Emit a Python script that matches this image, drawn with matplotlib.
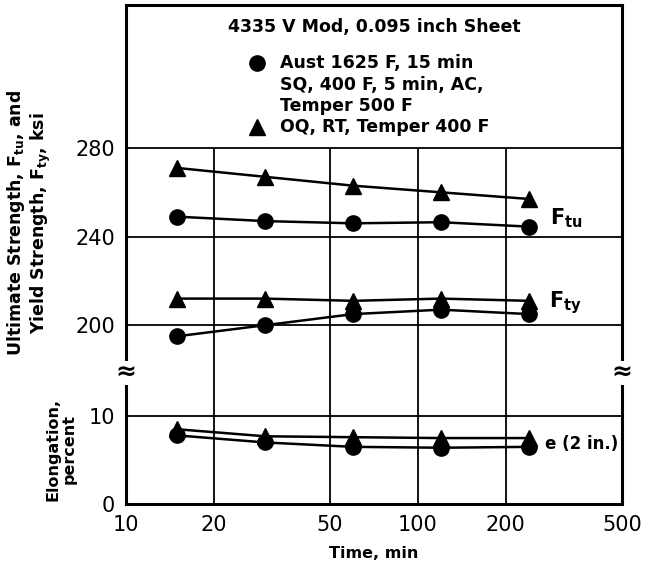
"""
4335 V Mod sheet: strength and elongation vs. tempering time.
"""
import numpy as np
import matplotlib
matplotlib.use('Agg')
import matplotlib.pyplot as plt

plt.rcParams.update({
    'font.family': 'DejaVu Sans',
    'mathtext.fontset': 'dejavusans',
    'axes.linewidth': 2.2,
})

# === Data ===
time_min = [15, 30, 60, 120, 240]
ftu_circle = [249, 247, 246, 246.5, 244.5]
ftu_triangle = [271, 267, 263, 260, 257]
fty_circle = [195, 200, 205, 207, 205]
fty_triangle = [212, 212, 211, 212, 211]
elong_circle = [7.8, 7.0, 6.5, 6.4, 6.5]
elong_triangle = [8.5, 7.7, 7.6, 7.5, 7.5]

x_ticks = [10, 20, 50, 100, 200, 500]
x_grid = [20, 50, 100, 200]
strength_ticks = [200, 240, 280]
elong_ticks = [0, 10]

W, H = 657, 567
fig = plt.figure(figsize=(W / 100, H / 100), dpi=100, facecolor='white')

# pixel frame of the plot
L, R, T, BRK, B = 126, 622, 5, 373, 504
ax_top = fig.add_axes([L / W, 1 - BRK / H, (R - L) / W, (BRK - T) / H])
ax_bot = fig.add_axes([L / W, 1 - B / H, (R - L) / W, (B - BRK) / H])

top_lim = (178.4, 344.6)
bot_lim = (0, 14.9)

GRID_LW = 1.3
for ax in (ax_top, ax_bot):
    ax.set_xscale('log')
    ax.set_xlim(10, 500)
    ax.minorticks_off()
    ax.tick_params(length=0, labelsize=15, pad=8)

ax_top.set_ylim(*top_lim)
ax_bot.set_ylim(*bot_lim)

# grid
ax_top.hlines(strength_ticks, 10, 500, color='black', lw=GRID_LW, zorder=1)
ax_top.vlines(x_grid, top_lim[0], 280, color='black', lw=GRID_LW, zorder=1)
ax_bot.hlines([10], 10, 500, color='black', lw=GRID_LW, zorder=1)
ax_bot.vlines(x_grid, bot_lim[0], bot_lim[1], color='black', lw=GRID_LW, zorder=1)

# spines
ax_top.spines['bottom'].set_visible(False)
ax_bot.spines['top'].set_visible(False)

ax_top.set_xticks([])
ax_top.set_yticks(strength_ticks)
ax_top.set_yticklabels([str(v) for v in strength_ticks])
ax_bot.set_xticks(x_ticks)
ax_bot.set_xticklabels([str(v) for v in x_ticks])
ax_bot.set_yticks(elong_ticks)
ax_bot.set_yticklabels([str(v) for v in elong_ticks])

mk = dict(color='black', lw=1.8, zorder=3, clip_on=False)
ax_top.plot(time_min, ftu_triangle, marker='^', markersize=12, **mk)
ax_top.plot(time_min, ftu_circle, marker='o', markersize=11, **mk)
ax_top.plot(time_min, fty_triangle, marker='^', markersize=12, **mk)
ax_top.plot(time_min, fty_circle, marker='o', markersize=11, **mk)
ax_bot.plot(time_min, elong_triangle, marker='^', markersize=12, **mk)
ax_bot.plot(time_min, elong_circle, marker='o', markersize=11, **mk)

# series labels
lab = dict(fontsize=15, fontweight='bold', ha='left', va='center',
           transform=ax_top.transAxes)
ax_top.text(0.855, 0.422, r'F$_\mathbf{tu}$', **lab)
ax_top.text(0.852, 0.191, r'F$_\mathbf{ty}$', **lab)
ax_bot.text(0.845, 0.455, 'e (2 in.)', fontsize=12, fontweight='bold',
            ha='left', va='center', transform=ax_bot.transAxes,
            bbox=dict(facecolor='white', edgecolor='none', pad=1), zorder=4)

# title and legend inside the top box
txt = dict(fontsize=12.5, fontweight='bold', va='center', transform=ax_top.transAxes)
ax_top.text(0.5, 0.940, '4335 V Mod, 0.095 inch Sheet', ha='center', **txt)
legend_lines = ['Aust 1625 F, 15 min', 'SQ, 400 F, 5 min, AC,', 'Temper 500 F',
                'OQ, RT, Temper 400 F']
legend_y = [0.842, 0.782, 0.725, 0.668]
for s, y in zip(legend_lines, legend_y):
    ax_top.text(0.310, y, s, ha='left', **txt)
ax_top.plot([0.264], [0.842], 'o', color='black', markersize=11,
            transform=ax_top.transAxes, clip_on=False)
ax_top.plot([0.264], [0.668], '^', color='black', markersize=12,
            transform=ax_top.transAxes, clip_on=False)

# axis labels
fig.text(29 / W, 1 - 223 / H,
         'Ultimate Strength, F$_\\mathbf{tu}$, and\nYield Strength, F$_\\mathbf{ty}$, ksi',
         rotation=90, ha='center', va='center', fontsize=12.5, fontweight='bold',
         linespacing=1.05)
fig.text(61 / W, 1 - 449 / H, 'Elongation,\npercent', rotation=90, ha='center',
         va='center', fontsize=11.5, fontweight='bold', linespacing=1.05)
fig.text((L + R) / 2 / W, 1 - 554 / H, 'Time, min', ha='center', va='center',
         fontsize=11.5, fontweight='bold')

# axis break marks
for xp in (L, R):
    fig.text(xp / W, 1 - BRK / H, '\u2248', ha='center', va='center',
             fontsize=18, fontweight='bold',
             bbox=dict(facecolor='white', edgecolor='none', pad=0))

plt.savefig('out.png', dpi=100, facecolor='white')
plt.close()
